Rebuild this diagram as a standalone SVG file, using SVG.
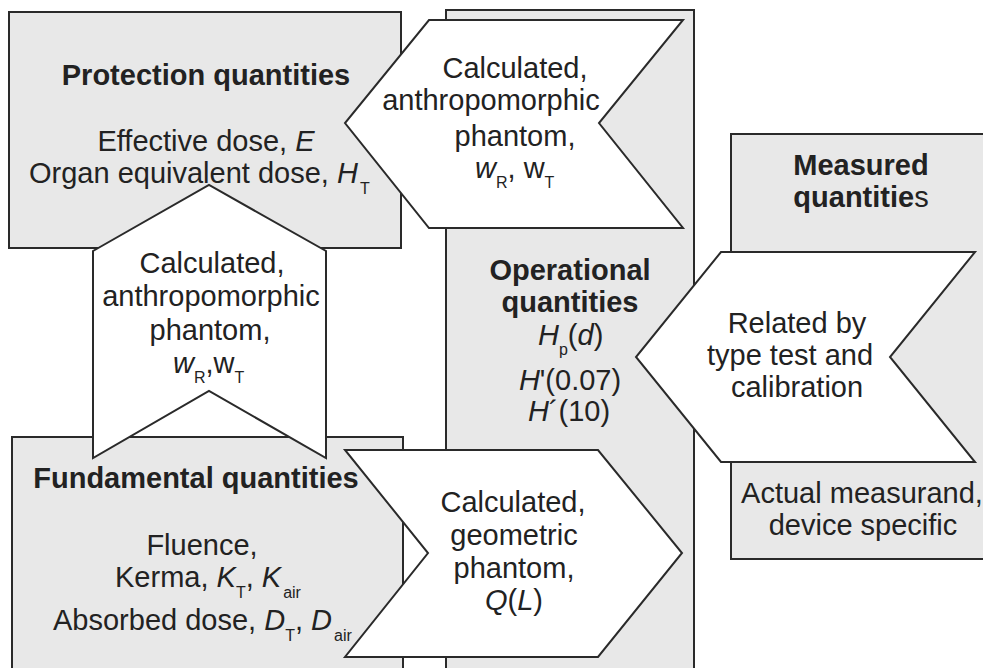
<svg xmlns="http://www.w3.org/2000/svg" width="983" height="668" viewBox="0 0 983 668">
<style>
  .box { fill: #e8e8e8; stroke: #2a2a2a; stroke-width: 2; }
  .chev { fill: #ffffff; stroke: #2a2a2a; stroke-width: 2; stroke-linejoin: miter; }
  text { font-family: "Liberation Sans", Arial, sans-serif; font-size: 29px; fill: #222222; }
  .c { text-anchor: middle; }
  .b { font-weight: bold; }
  .i { font-style: italic; }
  .sub { font-size: 16px; font-style: normal; }
</style>
<rect width="983" height="668" fill="#ffffff"/>

<g id="operational">
  <rect class="box" x="446" y="10" width="248" height="680"/>
  <text class="c b" x="570" y="280">Operational</text>
  <text class="c b" x="570" y="312">quantities</text>
  <text x="538" y="345"><tspan class="i">H</tspan><tspan class="sub" dy="10">p</tspan><tspan dy="-10">(</tspan><tspan class="i">d</tspan>)</text>
  <text class="c" x="570" y="390"><tspan class="i">H</tspan>'(0.07)</text>
  <text class="c" x="569" y="421"><tspan class="i">H</tspan>´(10)</text>
</g>

<g id="protection">
  <rect class="box" x="9" y="12" width="392" height="236"/>
  <text class="c b" x="206" y="85">Protection quantities</text>
  <text class="c" x="206" y="151">Effective dose, <tspan class="i">E</tspan></text>
  <text x="29" y="183">Organ equivalent dose, <tspan class="i">H</tspan><tspan class="sub" dx="2" dy="11">T</tspan></text>
</g>

<g id="measured">
  <rect class="box" x="731" y="134" width="270" height="425"/>
  <text class="c b" x="861" y="175">Measured</text>
  <text class="c" x="861" y="207"><tspan class="b">quantitie</tspan>s</text>
  <text class="c" x="862" y="503">Actual measurand,</text>
  <text class="c" x="863" y="535">device specific</text>
</g>

<g id="fundamental">
  <rect class="box" x="12" y="437" width="391" height="250"/>
  <text class="c b" x="196" y="488">Fundamental quantities</text>
  <text class="c" x="202" y="555">Fluence,</text>
  <text x="115" y="587">Kerma, <tspan class="i">K</tspan><tspan class="sub" dy="11">T</tspan><tspan dy="-11">, </tspan><tspan class="i">K</tspan><tspan class="sub" dx="2" dy="11">air</tspan></text>
  <text x="53" y="630">Absorbed dose, <tspan class="i">D</tspan><tspan class="sub" dy="11">T</tspan><tspan dy="-11">, </tspan><tspan class="i">D</tspan><tspan class="sub" dx="2" dy="11">air</tspan></text>
</g>

<g id="connectors">
  <g id="op-to-protection">
    <polygon class="chev" points="429,20 683,20 599,123 683,228 429,228 345,123"/>
    <text class="c" x="515" y="78">Calculated,</text>
    <text class="c" x="491" y="110">anthropomorphic</text>
    <text class="c" x="515" y="146">phantom,</text>
    <text x="475" y="178"><tspan class="i">w</tspan><tspan class="sub" dy="10">R</tspan><tspan dy="-10">, w</tspan><tspan class="sub" dy="10">T</tspan></text>
  </g>
  <g id="fundamental-to-protection">
    <polygon class="chev" points="93,251 209,185 326,251 326,458 209,391 93,458"/>
    <text class="c" x="212" y="273">Calculated,</text>
    <text class="c" x="211" y="306">anthropomorphic</text>
    <text class="c" x="210" y="340">phantom,</text>
    <text x="173" y="373"><tspan class="i">w</tspan><tspan class="sub" dy="10">R</tspan><tspan dy="-10">,w</tspan><tspan class="sub" dy="10">T</tspan></text>
  </g>
  <g id="fundamental-to-operational">
    <polygon class="chev" points="345,450 598,450 682,553 598,657 345,657 428,553"/>
    <text class="c" x="513" y="512">Calculated,</text>
    <text class="c" x="514" y="545">geometric</text>
    <text class="c" x="514" y="578">phantom,</text>
    <text class="c" x="514" y="610"><tspan class="i">Q</tspan>(<tspan class="i">L</tspan>)</text>
  </g>
  <g id="measured-to-operational">
    <polygon class="chev" points="721,252 975,252 890,357 975,462 721,462 636,357"/>
    <text class="c" x="797" y="333">Related by</text>
    <text class="c" x="790" y="365">type test and</text>
    <text class="c" x="797" y="397">calibration</text>
  </g>
</g>
</svg>
